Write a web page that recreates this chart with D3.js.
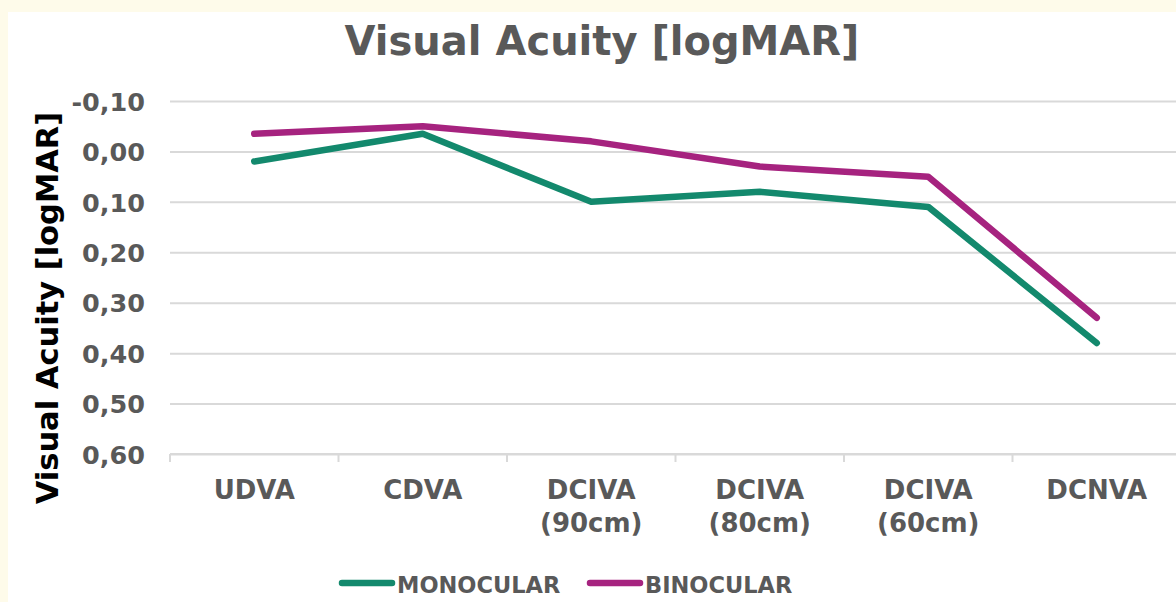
<!doctype html>
<html lang="en">
<head>
<meta charset="utf-8">
<title>Visual Acuity [logMAR]</title>
<script src="https://d3js.org/d3.v7.min.js"></script>
<style>
  body { margin: 0; background: #fefbea; }
  svg text { font-family: "DejaVu Sans", Verdana, sans-serif; font-weight: bold; }
</style>
</head>
<body>
<svg id="chart" width="1176" height="602"></svg>
<script>
  // data
  var categories = ["UDVA", "CDVA", "DCIVA\n(90cm)", "DCIVA\n(80cm)", "DCIVA\n(60cm)", "DCNVA"];
  var monocular = [0.02, -0.035, 0.10, 0.08, 0.11, 0.38];
  var binocular = [-0.035, -0.05, -0.02, 0.03, 0.05, 0.33];
  var yTicks = [-0.10, 0.00, 0.10, 0.20, 0.30, 0.40, 0.50, 0.60];

  var series = [
    { name: "MONOCULAR", values: monocular, color: "#13896d" },
    { name: "BINOCULAR", values: binocular, color: "#a6237f" }
  ];

  var plotLeft = 170, plotRight = 1181, plotTop = 101, plotBottom = 454;
  var textGrey = "#595959";

  var svg = d3.select("#chart");

  // white panel
  svg.append("rect")
    .attr("x", 8).attr("y", 12)
    .attr("width", 1176).attr("height", 602)
    .attr("fill", "#ffffff");

  var x = d3.scaleBand().domain(categories).range([plotLeft, plotRight]).padding(0);
  var y = d3.scaleLinear().domain([-0.10, 0.60]).range([plotTop, plotBottom]);

  var fmt = d3.formatLocale({ decimal: ",", thousands: ".", grouping: [3], currency: ["", ""], minus: "-" }).format(".2f");

  // gridlines + y tick labels
  var yAxis = svg.append("g")
    .attr("transform", "translate(" + plotLeft + ",0)")
    .call(d3.axisLeft(y).tickValues(yTicks).tickSize(-(plotRight - plotLeft)).tickPadding(25).tickFormat(fmt));
  yAxis.select(".domain").remove();
  yAxis.selectAll(".tick line").attr("stroke", "#d9d9d9").attr("stroke-width", 2);
  yAxis.selectAll(".tick text")
    .attr("fill", textGrey)
    .style("font-size", "25.5px")
    .attr("dy", "0.36em");

  // bottom axis with boundary ticks
  var xAxis = svg.append("g");
  xAxis.append("line")
    .attr("x1", plotLeft).attr("x2", plotRight)
    .attr("y1", y(0.60)).attr("y2", y(0.60))
    .attr("stroke", "#d9d9d9").attr("stroke-width", 2);
  xAxis.selectAll(".bt")
    .data(categories)
    .enter()
    .append("line")
    .attr("x1", function(d) { return x(d); })
    .attr("x2", function(d) { return x(d); })
    .attr("y1", y(0.60)).attr("y2", y(0.60) + 8)
    .attr("stroke", "#d9d9d9").attr("stroke-width", 2);

  var xl = xAxis.selectAll(".xl")
    .data(categories)
    .enter()
    .append("text")
    .attr("text-anchor", "middle")
    .attr("fill", textGrey)
    .style("font-size", "26px")
    .attr("transform", function(d) { return "translate(" + (x(d) + x.bandwidth() / 2) + "," + 499 + ")"; });
  xl.selectAll("tspan")
    .data(function(d) { return d.split("\n"); })
    .enter()
    .append("tspan")
    .attr("x", 0)
    .attr("y", function(d, i) { return i * 33; })
    .text(function(d) { return d; });

  // lines
  var line = d3.line()
    .x(function(d, i) { return x(categories[i]) + x.bandwidth() / 2; })
    .y(function(d) { return y(d); });

  svg.selectAll(".series")
    .data(series)
    .enter()
    .append("path")
    .attr("d", function(d) { return line(d.values); })
    .attr("fill", "none")
    .attr("stroke", function(d) { return d.color; })
    .attr("stroke-width", 6.5)
    .attr("stroke-linecap", "round")
    .attr("stroke-linejoin", "round");

  // title
  svg.append("text")
    .attr("x", 602).attr("y", 55)
    .attr("text-anchor", "middle")
    .attr("fill", textGrey)
    .style("font-size", "40px")
    .text("Visual Acuity [logMAR]");

  // y axis title
  svg.append("text")
    .attr("transform", "translate(58,308) rotate(-90)")
    .attr("text-anchor", "middle")
    .attr("fill", "#000000")
    .style("font-size", "30.5px")
    .text("Visual Acuity [logMAR]");

  // legend
  var legendX = [340, 588];
  var legend = svg.selectAll(".legend")
    .data(series)
    .enter()
    .append("g")
    .attr("transform", function(d, i) { return "translate(" + legendX[i] + ",583)"; });
  legend.append("line")
    .attr("x1", 2).attr("x2", 52)
    .attr("y1", 0).attr("y2", 0)
    .attr("stroke", function(d) { return d.color; })
    .attr("stroke-width", 6.5)
    .attr("stroke-linecap", "round");
  legend.append("text")
    .attr("x", 57).attr("y", 10)
    .attr("fill", textGrey)
    .style("font-size", "22.5px")
    .text(function(d) { return d.name; });
</script>
</body>
</html>
